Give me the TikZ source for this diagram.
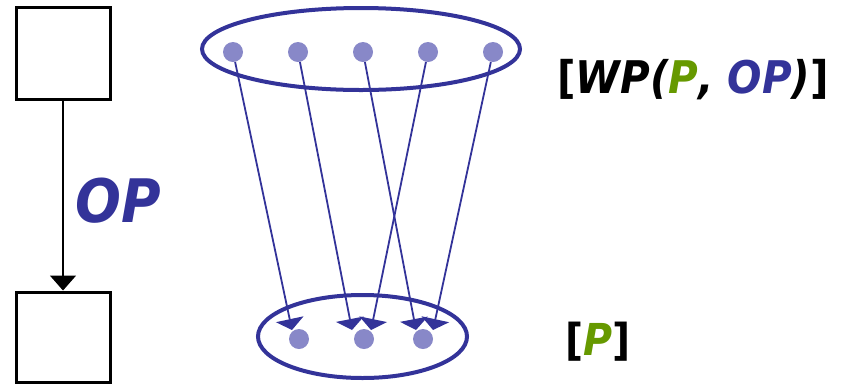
\documentclass[tikz,border=0pt]{standalone}
\usepackage{fontspec}
\setmainfont{DejaVu Sans}
\newfontfamily\condfont{DejaVu Sans Condensed}
\usetikzlibrary{arrows.meta,shapes.geometric}
\definecolor{opblue}{HTML}{333399}
\definecolor{pgreen}{HTML}{669900}
\definecolor{dotfill}{HTML}{8888C8}
\begin{document}
\begin{tikzpicture}[x=1pt,y=-1pt,
  statebox/.style={draw=black,line width=3pt,fill=white,inner sep=0pt},
  setell/.style={draw=opblue,line width=4pt,ellipse,inner sep=0pt},
  dot/.style={circle,fill=dotfill,draw=none,minimum size=20pt,inner sep=0pt},
  mapto/.style={draw=opblue,line width=1.8pt,-{Triangle[width=28pt,length=11pt]}},
  big/.style={font=\condfont\fontsize{60}{60}\selectfont\bfseries\itshape},
  mid/.style={font=\condfont\fontsize{45}{45}\selectfont},
  sml/.style={font=\condfont\fontsize{44}{44}\selectfont}]
\useasboundingbox (0,0) rectangle (846,384);
% left boxes
\node[statebox,minimum width=94pt,minimum height=92pt] (s1) at (63,53) {};
\node[statebox,minimum width=94pt,minimum height=90pt] (s2) at (63,337) {};
\draw[line width=1.5pt,-{Triangle[width=26pt,length=15pt]}] (s1.south) -- (s2.north);
\node[big,text=opblue,inner sep=0pt] (op) at (118,201) {OP};
% ellipses
\node[setell,minimum width=318pt,minimum height=82pt] (E1) at (361,49) {};
\node[setell,minimum width=209pt,minimum height=83pt] (E2) at (362.5,336.5) {};
% dots
\foreach \i/\x in {1/233,2/298,3/363,4/428,5/493}
  \node[dot] (t\i) at (\x,52) {};
\foreach \i/\x in {1/299,2/364,3/423}
  \node[dot] (b\i) at (\x,339) {};
% arrow tips
\coordinate (c1) at (292,330);
\coordinate (c2) at (352,330);
\coordinate (c3) at (416,330);
\coordinate (c4) at (371,330);
\coordinate (c5) at (433,330);
\foreach \i in {1,...,5}
  \draw[mapto] (t\i) -- (c\i);
% labels
\node[mid,anchor=base west,inner sep=0pt] (wp) at (557,93)
  {{\bfseries[}{\bfseries\itshape WP(\textcolor{pgreen}{P}, \textcolor{opblue}{OP})}{\bfseries]}};
\node[sml,anchor=base west,inner sep=0pt] (pl) at (565,355)
  {{\bfseries[}{\bfseries\itshape\textcolor{pgreen}{P}}{\bfseries]}};
\end{tikzpicture}
\end{document}
